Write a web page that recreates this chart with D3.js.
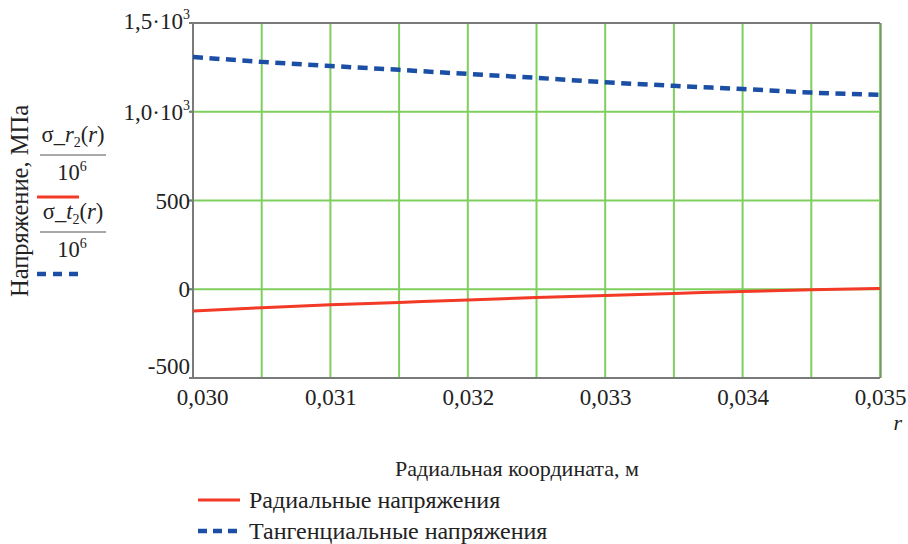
<!DOCTYPE html>
<html>
<head>
<meta charset="utf-8">
<script src="https://cdn.jsdelivr.net/npm/d3@7"></script>
<style>
  html, body { margin: 0; padding: 0; background: #fff; }
  svg { display: block; }
  svg text { font-family: 'Liberation Serif', 'DejaVu Serif', serif; }
</style>
</head>
<body>
<svg id="chart" width="908" height="544"></svg>
<script>
// Radial coordinate, m
const radius = [0.030, 0.0305, 0.031, 0.0315, 0.032, 0.0325, 0.033, 0.0335, 0.034, 0.0345, 0.035];
// Radial stress sigma_r2(r)/1e6, MPa
const radialStress = [-122, -104, -88, -74, -60, -47, -35, -24, -12, -3, 4];
// Tangential stress sigma_t2(r)/1e6, MPa
const tangentialStress = [1309, 1281, 1258, 1236, 1213, 1191, 1166, 1146, 1128, 1108, 1096];

const xTicks = [0.030, 0.031, 0.032, 0.033, 0.034, 0.035];
const xTickLabels = ["0,030", "0,031", "0,032", "0,033", "0,034", "0,035"];
const xGrid = [0.0305, 0.031, 0.0315, 0.032, 0.0325, 0.033, 0.0335, 0.034, 0.0345, 0.035];
const yTicks = [1500, 1000, 500, 0, -500];
const yTickLabels = [["1,5·10", "3"], ["1,0·10", "3"], ["500", ""], ["0", ""], ["-500", ""]];
const yGrid = [1000, 500, 0];

const seriesNames = ["Радиальные напряжения", "Тангенциальные напряжения"];
const xTitle = "Радиальная координата, м";
const yTitle = "Напряжение, МПа";

const serif = "'Liberation Serif', 'DejaVu Serif', serif";
const colors = { radial: "#f23a26", tangential: "#1b4fa6", grid: "#7fcf5f", axis: "#7a7a7a", text: "#222" };

const svg = d3.select("#chart");
const plot = { left: 193, right: 880, top: 23, bottom: 378 };

const x = d3.scaleLinear().domain([0.030, 0.035]).range([plot.left, plot.right]);
const y = d3.scaleLinear().domain([-500, 1500]).range([plot.bottom, plot.top]);

// grid
svg.append("g").selectAll("line.vg").data(xGrid).join("line")
  .attr("x1", d => x(d)).attr("x2", d => x(d))
  .attr("y1", plot.top).attr("y2", plot.bottom)
  .attr("stroke", colors.grid).attr("stroke-width", 2);
svg.append("g").selectAll("line.hg").data(yGrid).join("line")
  .attr("x1", plot.left - 3).attr("x2", plot.right)
  .attr("y1", d => y(d)).attr("y2", d => y(d))
  .attr("stroke", colors.grid).attr("stroke-width", 2);

// frame: left, bottom, top in grey
svg.append("path")
  .attr("d", `M${plot.right},${plot.top}H${plot.left}V${plot.bottom}H${plot.right}`)
  .attr("fill", "none").attr("stroke", colors.axis).attr("stroke-width", 2);
svg.append("line")
  .attr("x1", plot.right + 1).attr("x2", plot.right + 1)
  .attr("y1", plot.top).attr("y2", plot.bottom)
  .attr("stroke", "#5a6a50").attr("stroke-width", 1);

// y ticks
svg.append("g").selectAll("line").data(yTicks).join("line")
  .attr("x1", plot.left - 4).attr("x2", plot.left)
  .attr("y1", d => y(d)).attr("y2", d => y(d))
  .attr("stroke", colors.axis).attr("stroke-width", 2);

const yLab = svg.append("g").style("font-family", serif).attr("font-size", 23)
  .attr("fill", colors.text).attr("text-anchor", "end");
yTicks.forEach((v, i) => {
  const off = v === -500 ? -4 : (v === 1500 ? 6 : 8);
  const t = yLab.append("text").attr("x", plot.left - 3).attr("y", y(v) + off);
  t.append("tspan").text(yTickLabels[i][0]);
  if (yTickLabels[i][1]) {
    t.append("tspan").attr("font-size", 14).attr("dy", -10).text(yTickLabels[i][1]);
  }
});

// x tick labels
const xAxis = d3.axisBottom(x).tickValues(xTicks).tickSize(0)
  .tickFormat((d, i) => xTickLabels[i]);
const gx = svg.append("g").attr("transform", `translate(0,${plot.bottom})`).call(xAxis);
gx.attr("font-family", null).attr("font-size", null);
gx.select(".domain").remove();
gx.selectAll("text")
  .style("font-family", serif).attr("font-size", 23).attr("fill", colors.text)
  .attr("dy", 0).attr("y", 27)
  .attr("dx", (d, i) => i === 0 ? 9 : 0);

svg.append("text").attr("x", 902).attr("y", 430).attr("text-anchor", "end")
  .style("font-family", serif).attr("font-size", 22).attr("font-style", "italic")
  .attr("fill", colors.text).text("r");

// series
const line = d3.line().x((d, i) => x(radius[i])).y(d => y(d)).curve(d3.curveMonotoneX);
svg.append("path").datum(radialStress).attr("d", line)
  .attr("fill", "none").attr("stroke", colors.radial).attr("stroke-width", 3);
svg.append("path").datum(tangentialStress).attr("d", line)
  .attr("fill", "none").attr("stroke", colors.tangential).attr("stroke-width", 4.5)
  .attr("stroke-dasharray", "10,6.5");

// axis titles
svg.append("text").attr("transform", "translate(28,201) rotate(-90)")
  .style("font-family", serif).attr("text-anchor", "middle").attr("font-size", 24.5)
  .attr("fill", colors.text).text(yTitle);
svg.append("text").attr("x", 517).attr("y", 476)
  .style("font-family", serif).attr("text-anchor", "middle").attr("font-size", 22)
  .attr("fill", colors.text).text(xTitle);

// expression legend beside the y axis
function fraction(g, letter, top) {
  const num = g.append("text").attr("x", 73).attr("y", top).attr("text-anchor", "middle")
    .style("font-family", serif).attr("font-size", 22.5).attr("fill", colors.text);
  num.append("tspan").text("σ_");
  num.append("tspan").attr("font-style", "italic").text(letter);
  num.append("tspan").attr("font-size", 14).attr("dy", 5).text("2");
  num.append("tspan").attr("dy", -5).text("(");
  num.append("tspan").attr("font-style", "italic").text("r");
  num.append("tspan").text(")");
  g.append("line").attr("x1", 40).attr("x2", 106).attr("y1", top + 13).attr("y2", top + 13)
    .attr("stroke", "#555").attr("stroke-width", 1.2);
  const den = g.append("text").attr("x", 72).attr("y", top + 38).attr("text-anchor", "middle")
    .style("font-family", serif).attr("font-size", 22.5).attr("fill", colors.text);
  den.append("tspan").text("10");
  den.append("tspan").attr("font-size", 14).attr("dy", -9).text("6");
}
const exprG = svg.append("g");
fraction(exprG, "r", 142);
exprG.append("line").attr("x1", 37).attr("x2", 79).attr("y1", 197).attr("y2", 197)
  .attr("stroke", colors.radial).attr("stroke-width", 3);
fraction(exprG, "t", 219);
exprG.append("line").attr("x1", 37).attr("x2", 79).attr("y1", 274).attr("y2", 274)
  .attr("stroke", colors.tangential).attr("stroke-width", 4.5).attr("stroke-dasharray", "9,7");

// bottom legend
const legend = svg.append("g");
const legendRows = [
  { name: seriesNames[0], color: colors.radial, width: 3, dash: null, y: 500 },
  { name: seriesNames[1], color: colors.tangential, width: 4.5, dash: "9,6", y: 531 }
];
legendRows.forEach(r => {
  legend.append("line").attr("x1", 198).attr("x2", 240).attr("y1", r.y).attr("y2", r.y)
    .attr("stroke", r.color).attr("stroke-width", r.width).attr("stroke-dasharray", r.dash);
  legend.append("text").attr("x", 249).attr("y", r.y + 8)
    .style("font-family", serif).attr("font-size", 24)
    .attr("fill", colors.text).text(r.name);
});
</script>
</body>
</html>
